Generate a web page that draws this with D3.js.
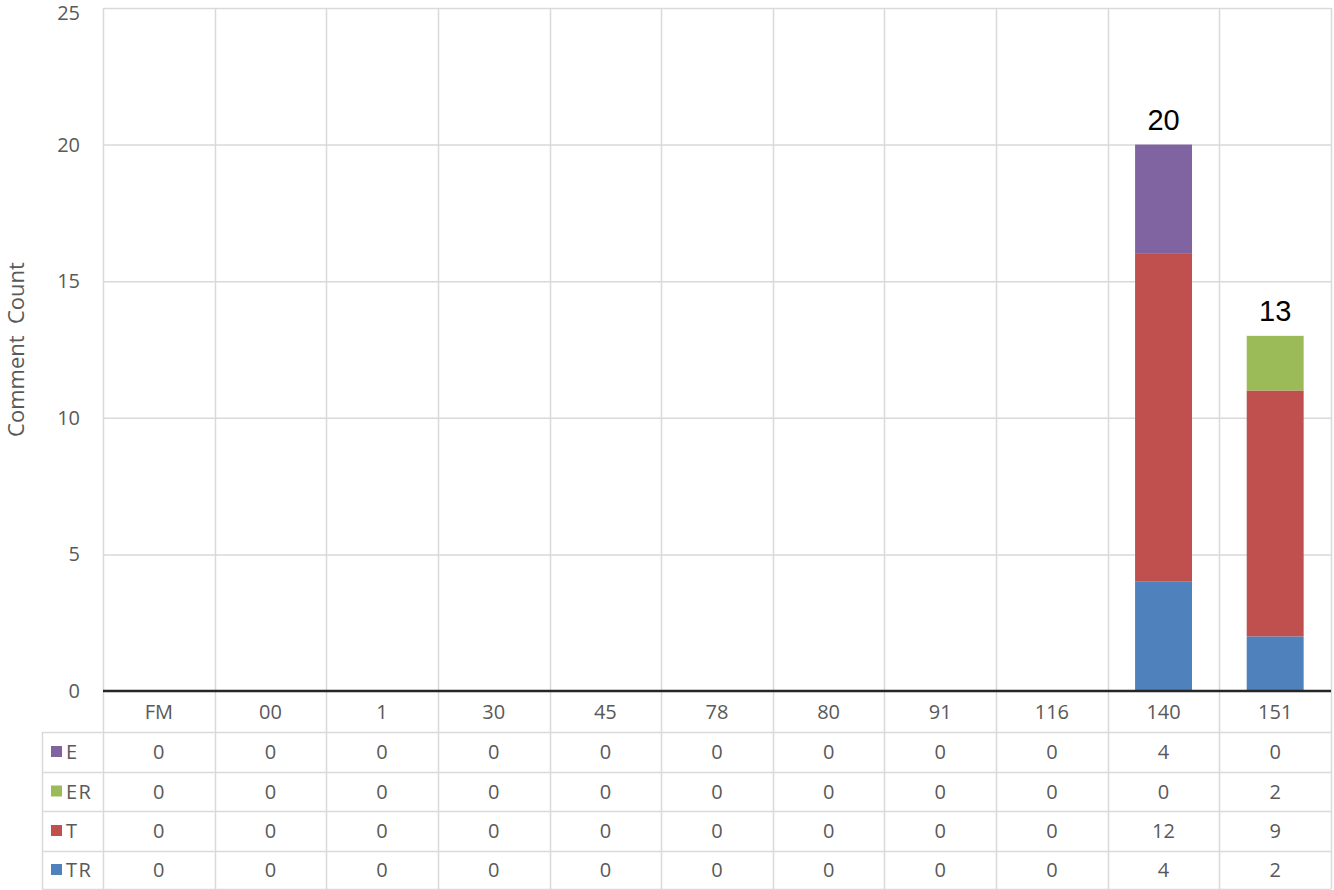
<!DOCTYPE html>
<html>
<head>
<meta charset="utf-8">
<script src="https://cdn.jsdelivr.net/npm/d3@7"></script>
<style>
  body { margin: 0; background: #fff; }
  svg { display: block; }
  text { font-family: "Open Sans", "Noto Sans", sans-serif; }
</style>
</head>
<body>
<div id="chart"></div>
<script>
// categories along the x axis
const categories = ["FM", "00", "1", "30", "45", "78", "80", "91", "116", "140", "151"];
// series, bottom of the stack first
const seriesNames = ["TR", "T", "ER", "E"];
const TR = [0, 0, 0, 0, 0, 0, 0, 0, 0, 4, 2];
const T  = [0, 0, 0, 0, 0, 0, 0, 0, 0, 12, 9];
const ER = [0, 0, 0, 0, 0, 0, 0, 0, 0, 0, 2];
const E  = [0, 0, 0, 0, 0, 0, 0, 0, 0, 4, 0];
const yTicks = [0, 5, 10, 15, 20, 25];
// data table row order (top to bottom)
const tableOrder = ["E", "ER", "T", "TR"];

const colors = { E: "#8064a2", ER: "#9bbb59", T: "#c0504d", TR: "#4f81bd" };
const values = { TR, T, ER, E };

const W = 1334, H = 890;
const plot = { left: 103, right: 1331, top: 8, bottom: 691 };
const tableLeft = 42;
const rowLines = [691, 732, 772, 811, 851, 889];
const gridColor = "#d9d9d9";
const textColor = "#595959";

const svg = d3.select("#chart").append("svg")
	.attr("width", W)
	.attr("height", H);

const x = d3.scaleBand()
	.domain(categories)
	.range([plot.left, plot.right])
	.padding(0);

const y = d3.scaleLinear()
	.domain([0, 25])
	.range([plot.bottom, plot.top]);

// build stacked table
const rows = categories.map((c, i) => {
	const o = { cat: c };
	seriesNames.forEach(s => { o[s] = values[s][i]; });
	return o;
});
const stacked = d3.stack().keys(seriesNames)(rows);

// horizontal gridlines
svg.append("g")
	.selectAll("line")
	.data(yTicks.filter(t => t > 0))
	.enter().append("line")
	.attr("x1", plot.left)
	.attr("x2", plot.right)
	.attr("y1", d => y(d) + 0.5)
	.attr("y2", d => y(d) + 0.5)
	.attr("stroke", gridColor)
	.attr("stroke-width", 1.5);

// vertical lines at category boundaries (through plot and table)
const bounds = categories.map(c => x(c)).concat([plot.right]);
svg.append("g")
	.selectAll("line")
	.data(bounds)
	.enter().append("line")
	.attr("x1", d => Math.round(d) + 0.5)
	.attr("x2", d => Math.round(d) + 0.5)
	.attr("y1", plot.top)
	.attr("y2", rowLines[rowLines.length - 1])
	.attr("stroke", gridColor)
	.attr("stroke-width", 1.5);

// table horizontal lines and left border
svg.append("g")
	.selectAll("line")
	.data(rowLines.slice(1))
	.enter().append("line")
	.attr("x1", tableLeft)
	.attr("x2", plot.right)
	.attr("y1", d => d + 0.5)
	.attr("y2", d => d + 0.5)
	.attr("stroke", gridColor)
	.attr("stroke-width", 1.5);

svg.append("line")
	.attr("x1", tableLeft + 0.5)
	.attr("x2", tableLeft + 0.5)
	.attr("y1", rowLines[1])
	.attr("y2", rowLines[rowLines.length - 1])
	.attr("stroke", gridColor)
	.attr("stroke-width", 1.5);

// bars
const barW = x.bandwidth() * 0.51;
svg.append("g")
	.selectAll("g")
	.data(stacked)
	.enter().append("g")
	.attr("fill", d => colors[d.key])
	.selectAll("rect")
	.data(d => d)
	.enter().append("rect")
	.attr("x", d => x(d.data.cat) + (x.bandwidth() - barW) / 2)
	.attr("y", d => y(d[1]))
	.attr("width", barW)
	.attr("height", d => y(d[0]) - y(d[1]));

// total labels
const totals = categories.map((c, i) => ({ cat: c, total: d3.sum(seriesNames, s => values[s][i]) }));
svg.append("g")
	.selectAll("text")
	.data(totals.filter(d => d.total > 0))
	.enter().append("text")
	.attr("x", d => x(d.cat) + x.bandwidth() / 2)
	.attr("y", d => y(d.total) - 15)
	.attr("text-anchor", "middle")
	.style("font-family", "Arial, 'Liberation Sans', sans-serif")
	.style("font-size", "29px")
	.attr("fill", "#000")
	.text(d => d.total);

// axis line
svg.append("line")
	.attr("x1", plot.left)
	.attr("x2", plot.right)
	.attr("y1", y(0))
	.attr("y2", y(0))
	.attr("stroke", "#262626")
	.attr("stroke-width", 2.5);

// y axis labels
const yAxis = d3.axisLeft(y).tickValues(yTicks).tickSize(0).tickPadding(0);
const yg = svg.append("g")
	.attr("transform", `translate(80,0)`)
	.call(yAxis);
yg.select(".domain").remove();
yg.selectAll("text")
	.attr("fill", textColor)
	.style("font-size", "20px")
	.attr("y", d => Math.max(y(d), 13) - y(d))
	.attr("dy", "0.32em");

// y title
svg.append("text")
	.attr("transform", `translate(24,${(plot.top + plot.bottom) / 2}) rotate(-90)`)
	.attr("text-anchor", "middle")
	.attr("fill", textColor)
	.style("font-size", "22px")
	.attr("xml:space", "preserve")
	.style("white-space", "pre")
	.text("Comment  Count");

// category labels row
svg.append("g")
	.selectAll("text")
	.data(categories)
	.enter().append("text")
	.attr("x", d => x(d) + x.bandwidth() / 2)
	.attr("y", (rowLines[0] + rowLines[1]) / 2)
	.attr("dy", "0.36em")
	.attr("text-anchor", "middle")
	.attr("fill", textColor)
	.style("font-size", "20px")
	.text(d => d);

// data table rows
tableOrder.forEach((s, r) => {
	const cy = (rowLines[r + 1] + rowLines[r + 2]) / 2;
	const g = svg.append("g");
	g.append("rect")
		.attr("x", 51)
		.attr("y", cy - 6)
		.attr("width", 11)
		.attr("height", 11)
		.attr("fill", colors[s]);
	g.append("text")
		.attr("x", 66)
		.attr("y", cy)
		.attr("dy", "0.36em")
		.attr("fill", textColor)
		.style("font-size", "20px")
		.style("letter-spacing", "1.5px")
		.text(s);
	g.selectAll(".cell")
		.data(values[s].map((v, i) => ({ v, cat: categories[i] })))
		.enter().append("text")
		.attr("x", d => x(d.cat) + x.bandwidth() / 2)
		.attr("y", cy)
		.attr("dy", "0.36em")
		.attr("text-anchor", "middle")
		.attr("fill", textColor)
		.style("font-size", "20px")
		.text(d => d.v);
});
</script>
</body>
</html>
